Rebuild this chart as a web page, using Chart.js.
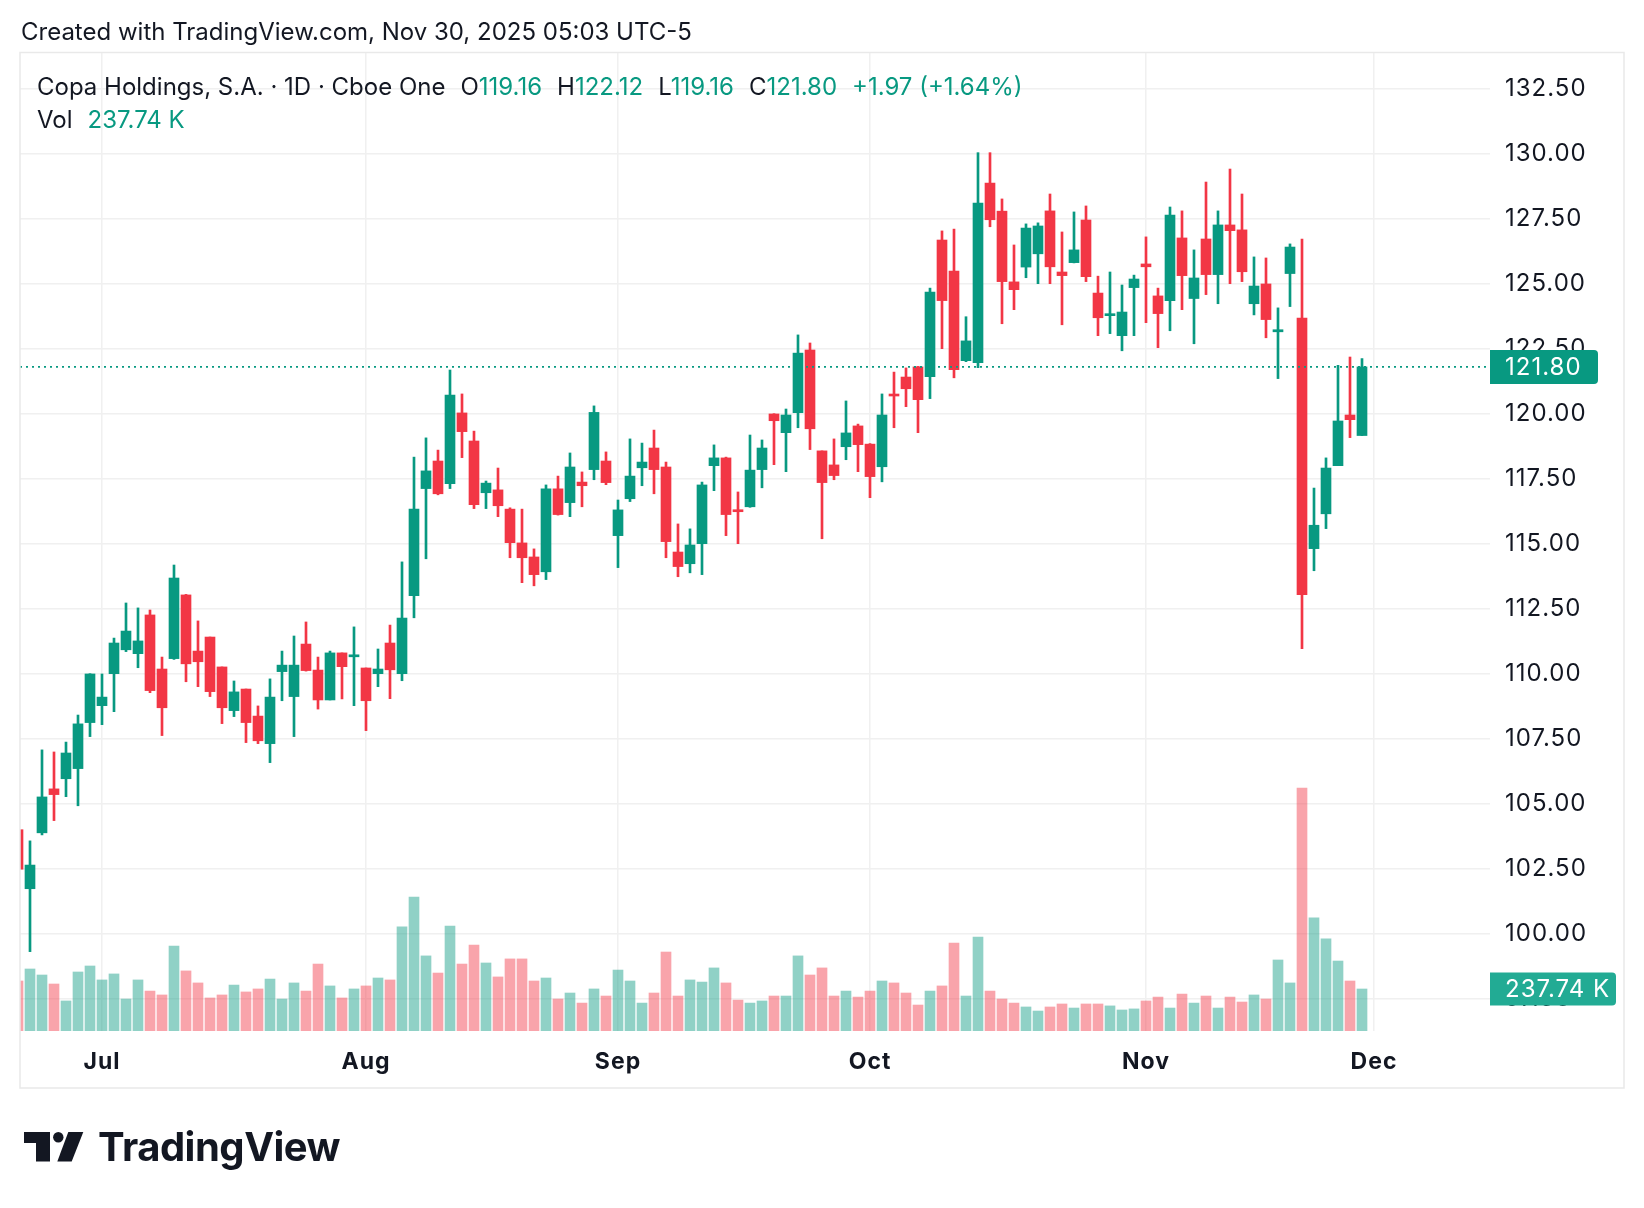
<!DOCTYPE html>
<html><head><meta charset="utf-8">
<script src="https://cdn.jsdelivr.net/npm/chart.js@4.4.1/dist/chart.umd.min.js"></script>
<style>
html,body{margin:0;padding:0;background:#fff;}
body{width:1644px;height:1208px;position:relative;overflow:hidden;font-family:Inter,"Noto Sans",sans-serif;color:#131722;}
#c{position:absolute;left:0;top:0;}
.t{position:absolute;white-space:nowrap;font-size:24px;line-height:29px;}
.g{color:#089981;}
.gap{margin-left:15px;}
.logo{position:absolute;left:98px;top:1127px;font-size:40px;line-height:40px;font-weight:700;letter-spacing:-0.5px;color:#131722;}
</style></head><body>
<canvas id="c" width="1644" height="1208"></canvas>
<div class="t" style="left:21px;top:17px">Created with TradingView.com, Nov 30, 2025 05:03 UTC-5</div>
<div class="t" style="left:37px;top:72px">Copa Holdings, S.A. · 1D · Cboe One<span class="gap">O</span><span class="g">119.16</span><span class="gap">H</span><span class="g">122.12</span><span class="gap">L</span><span class="g">119.16</span><span class="gap">C</span><span class="g">121.80</span><span class="g gap">+1.97 (+1.64%)</span></div>
<div class="t" style="left:37px;top:105px">Vol<span class="g gap">237.74 K</span></div>
<svg style="position:absolute;left:24px;top:1132px" width="62" height="31" viewBox="0 0 62 31">
  <path d="M0 0 H26 V29.4 H12 V11 H0 Z" fill="#131722"/>
  <circle cx="34.3" cy="5.3" r="5.2" fill="#131722"/>
  <path d="M44.3 0 H59.3 L47.7 29.4 H33.3 Z" fill="#131722"/>
</svg>
<div class="logo">TradingView</div>
<script>
// Trading days Jun 20 2025 .. Nov 28 2025 (index positions)
const monthTickIndex = [7, 29, 50, 71, 94, 113];
const monthTickLabels = ["Jul", "Aug", "Sep", "Oct", "Nov", "Dec"];
const priceTicks = [97.5,100,102.5,105,107.5,110,112.5,115,117.5,120,122.5,125,127.5,130,132.5];

const opens = [104.0,101.73,103.88,105.57,105.96,106.35,108.12,108.77,110.0,110.92,110.77,112.26,110.18,110.58,113.03,110.87,111.41,110.26,108.58,109.41,
108.37,107.31,110.08,109.12,111.14,110.14,108.99,110.80,110.65,110.22,110.0,111.18,110.0,113.0,117.12,118.18,117.31,120.03,118.95,116.96,
117.07,116.33,115.03,114.49,113.92,117.11,116.58,117.37,117.85,118.18,115.31,116.73,117.92,118.68,117.95,114.68,114.23,115.0,118.0,118.30,
116.30,116.42,117.85,119.99,119.27,120.04,122.45,118.57,118.03,118.73,119.53,118.83,117.96,120.75,121.41,121.80,121.42,126.68,125.49,122.04,
121.96,128.87,127.79,125.07,125.64,126.15,127.80,125.45,125.81,127.45,124.64,123.77,123.0,124.85,125.76,124.53,124.35,126.76,124.43,126.72,
125.35,127.26,127.07,124.23,124.99,123.15,125.39,123.68,114.81,116.15,118.0,119.95,119.16];
const highs = [104.1,103.57,107.07,106.99,107.37,108.41,110.0,109.99,111.37,112.72,112.53,112.45,110.64,114.18,113.05,112.03,111.41,110.26,109.72,109.41,
108.76,109.80,110.87,111.45,111.99,110.64,110.87,110.80,111.80,110.22,110.95,111.87,114.30,118.33,119.07,118.60,121.68,120.76,119.33,117.41,
117.91,116.38,116.33,114.80,117.26,117.60,118.49,117.76,120.30,118.53,116.68,119.03,118.87,119.37,118.14,115.76,115.57,117.37,118.80,118.33,
116.99,119.18,118.99,120.0,120.18,123.03,122.72,118.57,119.03,120.49,119.60,118.85,120.76,121.60,121.76,121.82,124.83,127.03,127.10,123.73,
130.04,130.04,128.26,126.49,127.30,127.34,128.45,126.99,127.76,127.99,125.29,125.45,124.95,125.33,126.80,124.83,127.95,127.80,126.30,128.91,
127.80,129.41,128.45,126.03,125.99,124.07,126.53,126.72,117.14,118.30,121.86,122.18,122.12];
const lows = [102.4,99.31,103.8,104.35,105.27,104.92,107.58,108.04,108.54,110.85,110.23,109.27,107.62,110.55,109.69,109.5,109.12,108.08,108.35,107.35,
107.31,106.58,108.96,107.58,110.1,108.64,108.99,109.03,108.77,107.81,109.5,109.04,109.73,112.15,114.42,116.88,117.12,118.31,116.35,116.35,
116.04,114.46,113.5,113.38,113.62,116.1,116.04,116.42,117.46,117.27,114.08,116.62,117.23,116.92,114.46,113.73,113.88,113.81,117.04,115.31,
115.0,116.4,117.15,118.04,117.77,119.46,118.62,115.19,117.46,118.23,117.77,116.77,117.38,119.46,120.27,119.27,120.58,122.50,121.38,122.0,
121.77,127.19,123.46,124.0,125.23,125.0,125.0,123.42,125.8,125.08,123.0,123.08,122.42,123.0,123.50,122.54,123.19,124.0,122.69,124.58,
124.23,125.0,125.08,123.80,122.92,121.35,124.12,110.96,113.96,115.58,118.0,119.08,119.16];
const closes = [102.48,102.64,105.26,105.35,106.95,108.07,109.99,109.10,111.18,111.64,111.26,109.35,108.69,113.68,110.38,110.46,109.31,108.69,109.30,108.12,
107.42,109.10,110.33,110.33,110.12,108.99,110.80,110.27,110.72,108.96,110.18,110.15,112.14,116.33,117.80,116.92,120.72,119.31,116.50,117.33,
116.46,115.04,114.46,113.81,117.11,116.12,117.95,117.23,120.05,117.35,116.30,117.60,118.14,117.85,115.08,114.12,114.95,117.26,118.30,116.12,
116.23,117.83,118.68,119.73,119.95,122.33,119.42,117.35,117.62,119.26,118.81,117.58,119.95,120.68,120.96,120.54,124.68,124.35,121.69,122.80,
128.10,127.46,125.08,124.77,127.14,127.22,125.65,125.31,126.30,125.27,123.69,123.83,123.91,125.18,125.65,123.85,127.64,125.31,125.22,125.35,
127.26,127.04,125.46,124.91,123.62,123.23,126.41,113.04,115.71,117.91,119.72,119.77,121.80];
// volume in thousands of shares
const volumes = [283,351,317,266,170,334,368,289,323,181,289,226,204,481,340,272,187,204,260,221,
238,294,181,272,226,379,255,187,238,255,300,289,589,758,425,328,594,379,487,385,
306,408,408,283,300,181,215,158,238,198,345,283,158,215,447,198,289,277,357,272,
175,158,170,198,198,425,317,357,198,226,192,226,283,272,215,147,226,255,498,198,
532,226,181,158,136,113,136,153,130,153,153,142,119,125,170,192,130,209,158,198,
130,192,164,204,181,402,272,1375,640,521,396,283,237.74];

const UP = '#089981', DOWN = '#F23645';
const UPV = 'rgba(8,153,129,0.45)', DOWNV = 'rgba(242,54,69,0.45)';
const idx = opens.map((_, i) => i);
const isUp = idx.map(i => closes[i] >= opens[i]);
const candleCols = isUp.map(u => u ? UP : DOWN);
const volCols = isUp.map(u => u ? UPV : DOWNV);

const lastClose = closes[closes.length - 1];
const lastVol = volumes[volumes.length - 1];

const overlay = {
  id: 'overlay',
  beforeDraw(chart) {
    chart.ctx.letterSpacing = '1px';
  },
  afterDatasetsDraw(chart) {
    const {ctx, chartArea, scales} = chart;
    const yp = scales.y.getPixelForValue(lastClose);
    ctx.save();
    ctx.strokeStyle = UP; ctx.lineWidth = 1.6; ctx.setLineDash([2, 4]);
    ctx.beginPath(); ctx.moveTo(chartArea.left, yp); ctx.lineTo(chartArea.right, yp); ctx.stroke();
    ctx.restore();
  },
  afterDraw(chart) {
    const {ctx, chartArea, scales} = chart;
    ctx.save();
    // frame
    ctx.strokeStyle = '#e9e9e9'; ctx.lineWidth = 1.5;
    ctx.strokeRect(20, 52.5, 1604, 1035.5);
    // price badge
    const yp = scales.y.getPixelForValue(lastClose);
    ctx.fillStyle = UP;
    ctx.beginPath(); ctx.roundRect(chartArea.right, yp - 17, 108, 34, [0, 4, 4, 0]); ctx.fill();
    ctx.fillStyle = '#fff'; ctx.font = '24px Inter'; ctx.textBaseline = 'middle'; ctx.textAlign = 'left';
    ctx.letterSpacing = '1px';
    ctx.fillText(lastClose.toFixed(2), chartArea.right + 15, yp + 1);
    // volume badge
    const yv = scales.yv.getPixelForValue(lastVol);
    ctx.fillStyle = '#22ab94';
    ctx.beginPath(); ctx.roundRect(chartArea.right, yv - 16.5, 126, 33, [0, 4, 4, 0]); ctx.fill();
    ctx.fillStyle = '#fff';
    ctx.fillText(lastVol.toFixed(2) + ' K', chartArea.right + 15, yv + 1);
    ctx.restore();
  }
};

new Chart(document.getElementById('c'), {
  type: 'bar',
  data: {
    datasets: [
      { label: 'Body', data: idx.map(i => ({x: i, y: [opens[i], closes[i]]})), backgroundColor: candleCols,
        barThickness: 10, grouped: false, yAxisID: 'y', order: 1, minBarLength: 2, borderWidth: 0, clip: 0 },
      { label: 'Wick', data: idx.map(i => ({x: i, y: [lows[i], highs[i]]})), backgroundColor: candleCols,
        barThickness: 2, grouped: false, yAxisID: 'y', order: 2, borderWidth: 0, clip: 0 },
      { label: 'Vol', data: idx.map(i => ({x: i, y: volumes[i]})), backgroundColor: volCols,
        barThickness: 10, grouped: false, yAxisID: 'yv', order: 3, borderWidth: 0, clip: 0 }
    ]
  },
  options: {
    responsive: false, animation: false, devicePixelRatio: 1,
    layout: { padding: { left: 20, top: 53, right: 18, bottom: 120 } },
    plugins: { legend: { display: false }, tooltip: { enabled: false } },
    scales: {
      x: {
        type: 'linear', min: 2 / 12, max: (1490 - 18) / 12, offset: false,
        afterBuildTicks: s => { s.ticks = monthTickIndex.map(v => ({value: v})); },
        afterFit: s => { s.height = 57; },
        ticks: { autoSkip: false, maxRotation: 0, padding: 17, color: '#131722',
          font: { family: 'Inter', size: 23, weight: '700' },
          callback: (v) => { const k = monthTickIndex.indexOf(v); return k >= 0 ? monthTickLabels[k] : ''; } },
        grid: { color: '#f0f0f0', lineWidth: 1.5, drawTicks: false, offset: false },
        border: { display: false }
      },
      y: {
        position: 'right', min: 100 - (1031 - 933.7) / 26, max: 100 + (933.7 - 53) / 26,
        afterBuildTicks: s => { s.ticks = priceTicks.map(v => ({value: v})); },
        afterFit: s => { s.width = 136; },
        ticks: { padding: 15, color: '#131722', font: { family: 'Inter', size: 24 },
          callback: v => Number(v).toFixed(2) },
        grid: { color: '#f0f0f0', lineWidth: 1.5, drawTicks: false },
        border: { display: false }
      },
      yv: { display: false, min: 0, max: 978 * 5.66 }
    }
  },
  plugins: [overlay]
});
</script>
</body></html>
